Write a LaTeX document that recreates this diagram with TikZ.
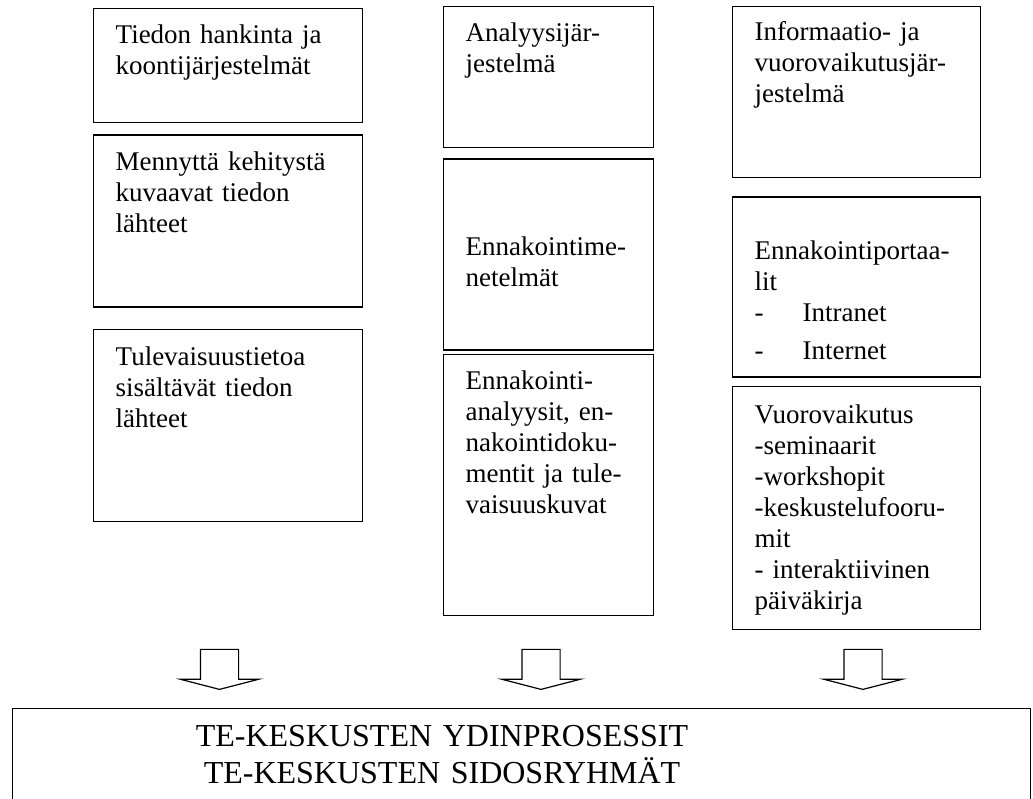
\documentclass[tikz,border=0pt]{standalone}
\usepackage{fontspec}
\setmainfont{Liberation Serif}
\usetikzlibrary{positioning, shapes.arrows}

\begin{document}
\begin{tikzpicture}[
    x=1pt, y=-1pt,
    font=\fontsize{27}{31}\selectfont,
    box/.style={rectangle, draw, line width=1.4pt, align=left,
                inner xsep=22pt, inner ysep=0pt},
    lbox/.style={box, text width=225pt},
    mbox/.style={box, text width=166pt},
    rbox/.style={box, text width=204pt},
    down/.style={single arrow, draw, line width=1.2pt, rotate=-90,
                 inner xsep=0pt, inner ysep=18.5pt,
                 minimum height=40pt, minimum width=77pt,
                 single arrow head extend=20pt, single arrow tip angle=151},
    core/.style={rectangle, draw, line width=1.4pt, inner sep=0pt}
]
\useasboundingbox (0,0) rectangle (1033,798);

\node[lbox, anchor=north west, text height=35pt, text depth=79pt]
    (L1) at (93,8) {Tiedon hankinta ja\\koontijärjestelmät};
\node[lbox, below=11pt of L1, text height=35pt, text depth=137pt]
    (L2) {Mennyttä kehitystä\\kuvaavat tiedon\\lähteet};
\node[lbox, below=21pt of L2, text height=36pt, text depth=156pt]
    (L3) {Tulevaisuustietoa\\sisältävät tiedon\\lähteet};

\node[mbox, anchor=north west, text height=35pt, text depth=106pt]
    (M1) at (443,6) {Analyysijär-\\jestelmä};
\node[mbox, below=10pt of M1, text height=96pt, text depth=95pt]
    (M2) {Ennakointime-\\netelmät};
\node[mbox, below=3pt of M2, text height=35pt, text depth=226pt]
    (M3) {Ennakointi-\\analyysit, en-\\nakointidoku-\\mentit ja tule-\\vaisuuskuvat};

\node[rbox, anchor=north west, text height=34pt, text depth=137pt]
    (R1) at (732,6) {Informaatio- ja\\vuorovaikutusjär-\\jestelmä};
\node[rbox, below=18pt of R1, text height=62pt, text depth=118pt]
    (R2) {Ennakointiportaa-\\lit\\\makebox[48pt][l]{-}Intranet\\[7pt]\makebox[48pt][l]{-}Internet};
\node[rbox, below=8pt of R2, text height=37pt, text depth=206pt]
    (R3) {Vuorovaikutus\\-seminaarit\\-workshopit\\-keskustelufooru-\\mit\\- interaktiivinen\\päiväkirja};

\node[down, anchor=tip] (A1) at (219.5,690) {};
\node[down, anchor=tip] (A2) at (541,690) {};
\node[down, anchor=tip] (A3) at (863,690) {};

\node[core, anchor=north west, minimum width=1018pt, minimum height=150pt]
    (base) at (12,708) {};
\node[font=\fontsize{32}{37}\selectfont, text width=600pt, align=center,
      anchor=base] (baseTxt) at (442,746)
    {TE-KESKUSTEN YDINPROSESSIT\\TE-KESKUSTEN SIDOSRYHMÄT};
\end{tikzpicture}
\end{document}
